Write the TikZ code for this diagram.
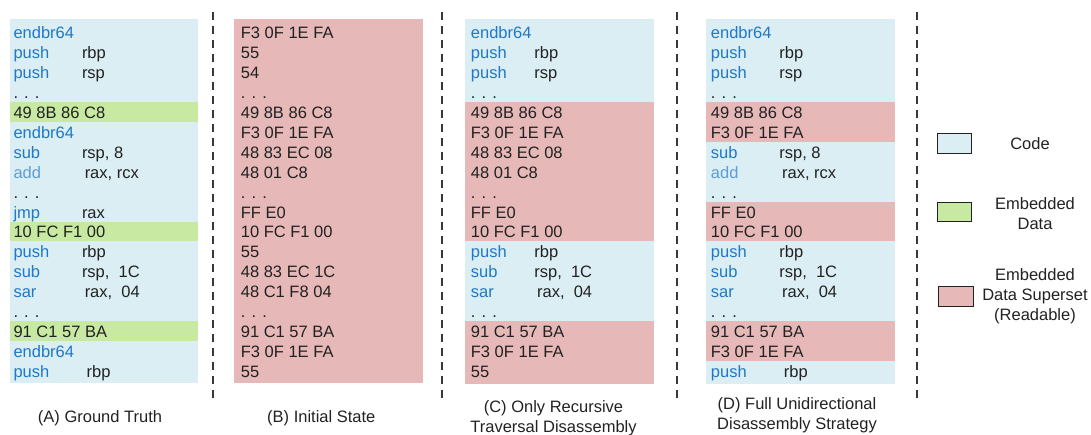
\documentclass[tikz,border=0pt]{standalone}
\usepackage{fontspec}
\setmainfont{Liberation Sans}
\usepackage{tikz}

\definecolor{codebg}{HTML}{DAEEF3}
\definecolor{databg}{HTML}{C8E9A2}
\definecolor{superbg}{HTML}{E6B9B8}
\definecolor{codeblue}{HTML}{1F78C8}
\definecolor{addblue}{HTML}{5E9CDA}
\definecolor{ink}{HTML}{222222}

\begin{document}
\begin{tikzpicture}[x=1pt, y=-1pt, font=\fontsize{16.5}{20}\selectfont,
  mn/.style={anchor=base west, inner sep=0pt, text=codeblue},
  ad/.style={anchor=base west, inner sep=0pt, text=addblue},
  hx/.style={anchor=base west, inner sep=0pt, text=ink},
  divider/.style={line width=1.4pt, draw=ink!90, dash pattern=on 8pt off 6pt},
  legbox/.style={draw=ink, line width=0.9pt, minimum width=34pt, minimum height=20pt, inner sep=0pt},
  legtxt/.style={align=center, text=ink},
  captxt/.style={align=center, text=ink}]
\useasboundingbox (0,0) rectangle (1091,435);

% backgrounds
\fill[codebg] (10,19) rectangle (198,383);
\fill[databg] (10,102.2) rectangle (198,122.1);
\fill[databg] (10,221.6) rectangle (198,241.5);
\fill[databg] (10,321.1) rectangle (198,341.0);

\fill[superbg] (234,19) rectangle (423,383);

\fill[codebg] (465,19) rectangle (654,102.2);
\fill[superbg] (465,102.2) rectangle (654,241.5);
\fill[codebg] (465,241.5) rectangle (654,321.1);
\fill[superbg] (465,321.1) rectangle (654,384);

\fill[codebg] (706,19) rectangle (895,102.2);
\fill[superbg] (706,102.2) rectangle (895,142.0);
\fill[codebg] (706,142.0) rectangle (895,201.7);
\fill[superbg] (706,201.7) rectangle (895,241.5);
\fill[codebg] (706,241.5) rectangle (895,321.1);
\fill[superbg] (706,321.1) rectangle (895,360.9);
\fill[codebg] (706,360.9) rectangle (895,384);

% (A) ground truth
\foreach [count=\i] \s/\m/\o in {mn/endbr64/{}, mn/push/rbp, mn/push/rsp, hx/{. . .}/{},
    hx/49 8B 86 C8/{}, mn/endbr64/{}, mn/sub/{rsp, 8}, ad/add/{\,rax, rcx}, hx/{. . .}/{},
    mn/jmp/rax, hx/10 FC F1 00/{}, mn/push/rbp, mn/sub/{rsp,\ \ 1C}, mn/sar/{\,rax,\ \ 04},
    hx/{. . .}/{}, hx/91 C1 57 BA/{}, mn/endbr64/{}, mn/push/{\ rbp}}
  \node[\s] (a\i) at (13.3,{39+(\i-1)*19.9}) {\makebox[68.5pt][l]{\m}\textcolor{ink}{\o}};

% (B) initial state
\foreach [count=\i] \m in {F3 0F 1E FA, 55, 54, {. . .}, 49 8B 86 C8, F3 0F 1E FA,
    48 83 EC 08, 48 01 C8, {. . .}, FF E0, 10 FC F1 00, 55, 48 83 EC 1C,
    48 C1 F8 04, {. . .}, 91 C1 57 BA, F3 0F 1E FA, 55}
  \node[hx] (b\i) at (240.7,{39+(\i-1)*19.9}) {\m};

% (C) only recursive traversal
\foreach [count=\i] \s/\m/\o in {mn/endbr64/{}, mn/push/rbp, mn/push/rsp, hx/{. . .}/{},
    hx/49 8B 86 C8/{}, hx/F3 0F 1E FA/{}, hx/48 83 EC 08/{}, hx/48 01 C8/{}, hx/{. . .}/{},
    hx/FF E0/{}, hx/10 FC F1 00/{}, mn/push/rbp, mn/sub/{rsp,\ \ 1C}, mn/sar/{\,rax,\ \ 04},
    hx/{. . .}/{}, hx/91 C1 57 BA/{}, hx/F3 0F 1E FA/{}, hx/55/{}}
  \node[\s] (c\i) at (470.7,{39+(\i-1)*19.9}) {\makebox[63.5pt][l]{\m}\textcolor{ink}{\o}};

% (D) full unidirectional
\foreach [count=\i] \s/\m/\o in {mn/endbr64/{}, mn/push/rbp, mn/push/rsp, hx/{. . .}/{},
    hx/49 8B 86 C8/{}, hx/F3 0F 1E FA/{}, mn/sub/{rsp, 8}, ad/add/{\,rax, rcx}, hx/{. . .}/{},
    hx/FF E0/{}, hx/10 FC F1 00/{}, mn/push/rbp, mn/sub/{rsp,\ \ 1C}, mn/sar/{\,rax,\ \ 04},
    hx/{. . .}/{}, hx/91 C1 57 BA/{}, hx/F3 0F 1E FA/{}, mn/push/{\ rbp}}
  \node[\s] (d\i) at (710.7,{39+(\i-1)*19.9}) {\makebox[68.5pt][l]{\m}\textcolor{ink}{\o}};

% separators
\draw[divider] (213,12) -- (213,400);
\draw[divider] (442,12) -- (442,400);
\draw[divider] (677,12) -- (677,400);
\draw[divider] (917,12) -- (917,400);

% captions
\node[captxt, anchor=base] (capa) at (100,422) {(A) Ground Truth};
\node[captxt, anchor=base] (capb) at (321.3,422) {(B) Initial State};
\node[captxt] (capc) at (553.5,418.3) {(C) Only Recursive\\Traversal Disassembly};
\node[captxt] (capd) at (797,415.5) {(D) Full Unidirectional\\Disassembly Strategy};

% legend
\node[legbox, fill=codebg] (kcode) at (954,143) {};
\node[legtxt] (tcode) at (1030,144) {Code};
\node[legbox, fill=databg, minimum height=19pt] (kdata) at (954,211.5) {};
\node[legtxt] (tdata) at (1035,213.4) {Embedded\\Data};
\node[legbox, fill=superbg, minimum width=35pt] (ksuper) at (955.5,296) {};
\node[legtxt] (tsuper) at (1035,295.8) {Embedded\\Data Superset\\(Readable)};

\end{tikzpicture}
\end{document}
